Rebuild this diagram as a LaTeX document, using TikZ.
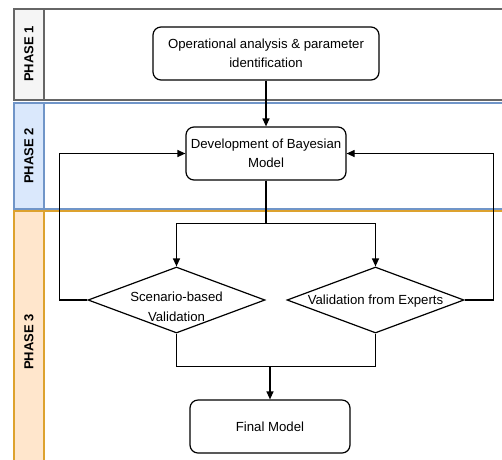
\documentclass[tikz,border=0pt]{standalone}
\usepackage{fontspec}
\setmainfont{Liberation Sans}
\usetikzlibrary{shapes.geometric,arrows.meta}
\definecolor{ponebd}{HTML}{666666}
\definecolor{ponefl}{HTML}{F5F5F5}
\definecolor{ptwobd}{HTML}{7095C8}
\definecolor{ptwofl}{HTML}{DAE8FC}
\definecolor{pthrbd}{HTML}{DDA22E}
\definecolor{pthrfl}{HTML}{FFE6CC}
\tikzset{
  lanebox/.style={line width=1.5pt},
  lanelabel/.style={font=\bfseries\fontsize{13}{15}\selectfont, rotate=90},
  procbox/.style={draw, line width=1.2pt, rounded corners=8pt, align=center, font=\fontsize{13.2}{19}\selectfont, inner sep=0pt},
  decbox/.style={draw, diamond, aspect=2.68, line width=1.2pt, minimum width=177pt, minimum height=66pt, inner sep=0pt, align=center, font=\fontsize{13.2}{19}\selectfont},
  txt/.style={align=center, font=\fontsize{13.2}{20}\selectfont, inner sep=0pt},
  conn/.style={line width=1.2pt},
  arr/.style={conn, -{Triangle[length=8pt,width=7pt]}}
}
\begin{document}
\begin{tikzpicture}[x=1pt,y=-1pt]
\useasboundingbox (0,0) rectangle (502,459);
\begin{scope}
\clip (0,0) rectangle (502,459);
% Phase 1
\draw[lanebox, draw=ponebd, fill=white] (14,9) rectangle (512,100);
\draw[lanebox, draw=ponebd, fill=ponefl] (14,9) rectangle (44,100);
\node[lanelabel] (l1) at (29,54) {PHASE 1};
% Phase 2
\draw[lanebox, draw=ptwobd, fill=white] (14,103) rectangle (512,209);
\draw[lanebox, draw=ptwobd, fill=ptwofl] (14,103) rectangle (44,209);
\node[lanelabel] (l2) at (29,156) {PHASE 2};
% Phase 3
\draw[lanebox, draw=pthrbd, fill=white] (14,211) rectangle (512,475);
\draw[lanebox, draw=pthrbd, fill=pthrfl] (14,211) rectangle (44,475);
\node[lanelabel] (l3) at (29,342) {PHASE 3};
\end{scope}

\node[procbox, minimum width=226pt, minimum height=53pt] (top) at (266,53.5) {Operational analysis \& parameter\\identification};
\node[procbox, minimum width=160pt, minimum height=53pt] (bay) at (266,153.5) {Development of Bayesian\\Model};
\node[decbox] (d1) at (176.5,300) {};
\node[txt] (d1t) at (176.5,307) {Scenario-based\\Validation};
\node[decbox] (d2) at (375.5,300) {};
\node[txt] (d2t) at (375.5,301) {Validation from Experts};
\node[procbox, minimum width=160pt, minimum height=53pt] (fin) at (270,426.5) {Final Model};

\draw[arr] (top) -- (bay);
\draw[arr] (bay.south) -- ++(0,43) -| (d1.north);
\draw[arr] (bay.south) -- ++(0,43) -| (d2.north);
\draw[arr] (d1.west) -- ++(-28,0) |- (bay.west);
\draw[arr] (d2.east) -- ++(29,0) |- (bay.east);
\draw[conn] (d1.south) -- ++(0,33) -| (d2.south);
\coordinate (m) at (270,366);
\draw[arr] (m) -- (fin.north);
\end{tikzpicture}
\end{document}
